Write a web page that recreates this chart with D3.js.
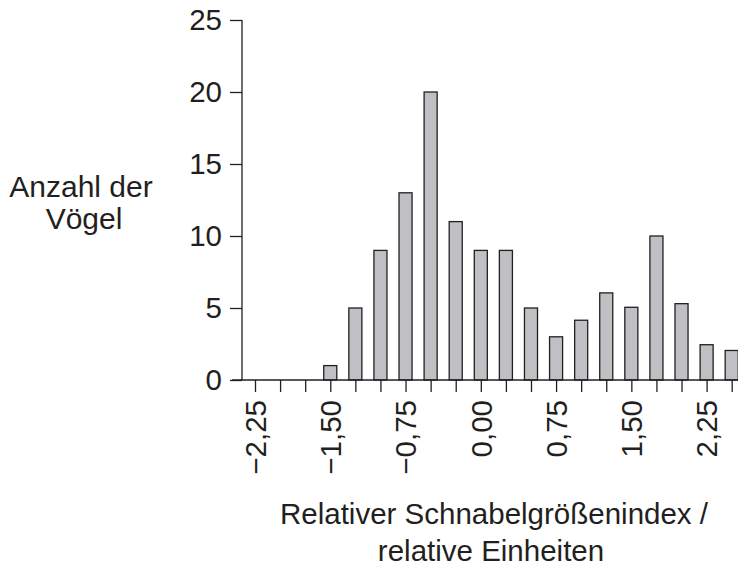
<!DOCTYPE html>
<html>
<head>
<meta charset="utf-8">
<script src="https://cdn.jsdelivr.net/npm/d3@7"></script>
<style>
  html, body { margin: 0; padding: 0; background: #fff; }
  svg { display: block; }
  text { font-family: "Liberation Sans", Arial, Helvetica, sans-serif; fill: #231f20; }
</style>
</head>
<body>
<svg id="chart" width="738" height="566"></svg>
<script>
// Data
const binCenters = [-2.25, -2.00, -1.75, -1.50, -1.25, -1.00, -0.75, -0.50, -0.25, 0.00, 0.25, 0.50, 0.75, 1.00, 1.25, 1.50, 1.75, 2.00, 2.25, 2.50];
const counts     = [0, 0, 0, 1, 5, 9, 13, 20, 11, 9, 9, 5, 3, 4.15, 6.05, 5.05, 10, 5.3, 2.45, 2.05];
const xTickLabels = [-2.25, -1.50, -0.75, 0.00, 0.75, 1.50, 2.25];
const yTicks = [0, 5, 10, 15, 20, 25];
const yTitle = ["Anzahl der", "Vögel"];
const xTitle = ["Relativer Schnabelgrößenindex /", "relative Einheiten"];

const svg = d3.select("#chart");
const fontSize = 29.5;

const x = d3.scaleLinear().domain([-2.25, 2.50]).range([255, 731.7]);
const y = d3.scaleLinear().domain([0, 25]).range([380, 20]);
const axisX0 = 242;
const barW = (x(0.25) - x(0)) * 0.52;

const fmt = v => {
  const s = Math.abs(v).toFixed(2).replace(".", ",");
  return (v < 0 ? "\u2212" : "") + s;
};

// Bars
svg.append("g").selectAll("rect")
  .data(binCenters.map((c, i) => ({c, v: counts[i]})).filter(d => d.v > 0))
  .join("rect")
  .attr("x", d => x(d.c) - barW / 2)
  .attr("width", barW)
  .attr("y", d => y(d.v))
  .attr("height", d => y(0) - y(d.v))
  .attr("fill", "#bfc0c4")
  .attr("stroke", "#231f20")
  .attr("stroke-width", 1.3);

// Y axis
const yAxis = d3.axisLeft(y).tickValues(yTicks).tickSize(12).tickPadding(8).tickFormat(d => d);
const gy = svg.append("g").attr("transform", `translate(${axisX0},0)`).call(yAxis);
gy.select(".domain").attr("d", `M0,${y(25)}V${y(0)}`).attr("stroke", "#231f20").attr("stroke-width", 1.3);
gy.selectAll(".tick line").attr("stroke", "#231f20").attr("stroke-width", 1.3);
gy.selectAll(".tick text").attr("font-size", fontSize).attr("font-family", null).attr("fill", "#231f20");

// X axis
const xAxis = d3.axisBottom(x).tickValues(binCenters).tickSize(12).tickPadding(8)
  .tickFormat(d => xTickLabels.some(t => Math.abs(t - d) < 1e-9) ? fmt(d) : "");
const gx = svg.append("g").attr("transform", `translate(0,${y(0)})`).call(xAxis);
gx.select(".domain").attr("d", `M${axisX0 - 10},0H738`).attr("stroke", "#231f20").attr("stroke-width", 1.3);
gx.selectAll(".tick line").attr("stroke", "#231f20").attr("stroke-width", 1.3);
gx.selectAll(".tick text")
  .attr("font-size", fontSize).attr("font-family", null).attr("fill", "#231f20")
  .attr("text-anchor", "end")
  .attr("transform", "rotate(-90)")
  .attr("x", -20).attr("y", 0).attr("dy", "0.35em");

// Y title
svg.append("text").attr("x", 81).attr("y", 197).attr("text-anchor", "middle")
  .attr("font-size", 30).text(yTitle[0]);
svg.append("text").attr("x", 84).attr("y", 229).attr("text-anchor", "middle")
  .attr("font-size", 30).text(yTitle[1]);

// X title
svg.append("text").attr("x", 494).attr("y", 524).attr("text-anchor", "middle")
  .attr("font-size", fontSize).text(xTitle[0]);
svg.append("text").attr("x", 491).attr("y", 561).attr("text-anchor", "middle")
  .attr("font-size", fontSize).text(xTitle[1]);
</script>
</body>
</html>
